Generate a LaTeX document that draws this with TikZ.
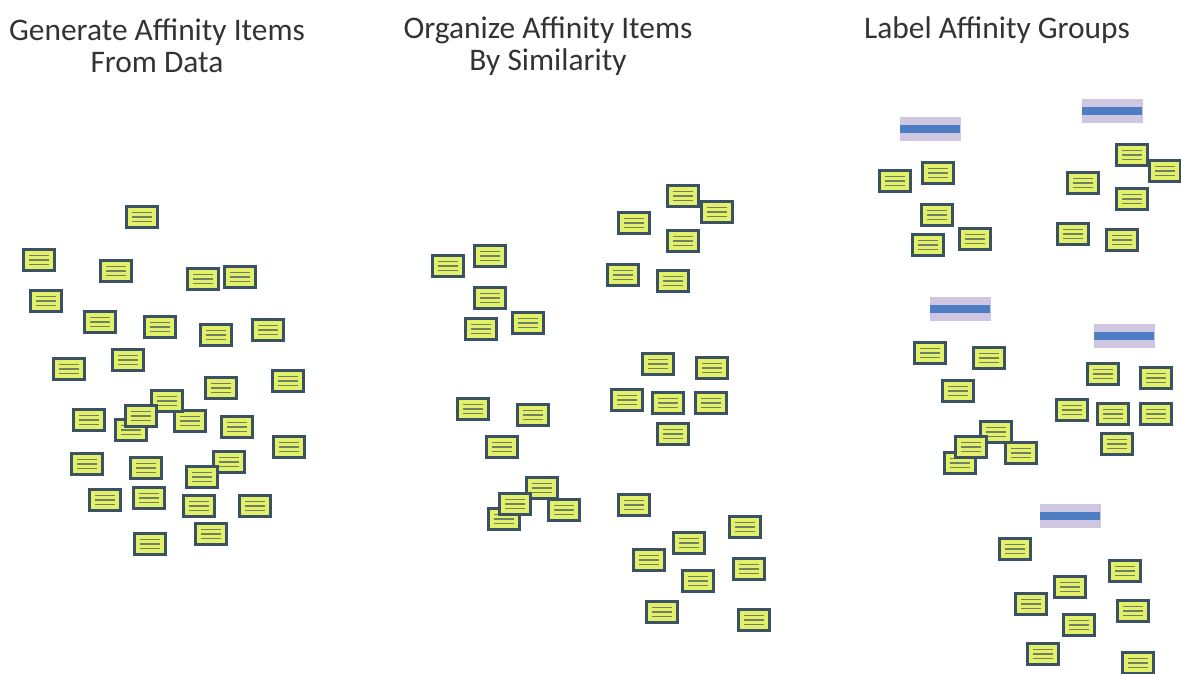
\documentclass[tikz,border=0pt]{standalone}
\usepackage{fontspec}
\setmainfont{Carlito}
\definecolor{itemfill}{HTML}{E2F06A}
\definecolor{bord}{HTML}{3A5264}
\definecolor{linecol}{HTML}{6F8160}
\definecolor{lav}{HTML}{CFC6E2}
\definecolor{barblue}{HTML}{4D7DC2}
\definecolor{titlecol}{HTML}{333333}
\tikzset{
  item/.style={draw=bord, fill=itemfill, line width=3.2pt, minimum width=30.5pt, minimum height=20.5pt, inner sep=0pt,
    path picture={
      \draw[linecol, line width=1.7pt]
        ([xshift=-10pt,yshift=4.5pt]path picture bounding box.center) -- ++(20pt,0pt)
        ([xshift=-10pt]path picture bounding box.center) -- ++(20pt,0pt)
        ([xshift=-10pt,yshift=-4.5pt]path picture bounding box.center) -- ++(20pt,0pt);
    }},
  labelbar/.style={fill=lav, draw=none, minimum width=61pt, minimum height=24pt, inner sep=0pt,
    path picture={
      \fill[barblue] ([xshift=-30pt,yshift=-4pt]path picture bounding box.center) rectangle ++(60pt,8pt);
    }},
  title/.style={font=\fontsize{31.4}{32}\selectfont, text=titlecol, align=center, inner sep=0pt}
}
\begin{document}
\begin{tikzpicture}[x=1pt,y=-1pt]
\useasboundingbox[fill=white] (0,0) rectangle (1181,673);
% titles
\node[title] (t1) at (157,46) {Generate Affinity Items\\From Data};
\node[title] (t2) at (548,46) {Organize Affinity Items\\By Similarity};
\node[title] (t3) at (997,30) {Label Affinity Groups};
% column 1: scattered items
\foreach \x/\y [count=\i] in {142/217, 39/260, 116/271, 203/279, 240/277, 46/301, 100/322, 160/327, 216/335, 268/330, 128/360, 69/369, 221/388, 288/381, 89/420, 190/421, 237/427, 131/430, 167/401, 141/416, 289/447, 87/464, 146/468, 229/462, 202/477, 105/500, 149/498, 199/506, 255/506, 211/534, 150/544}
  \node[item] (s\i) at (\x,\y) {};
% column 2: groups
\foreach \x/\y [count=\i] in {448/266, 490/256, 490/298, 481/329, 528/323}
  \node[item] (a\i) at (\x,\y) {};
\foreach \x/\y [count=\i] in {683/196, 717/212, 634/223, 683/241, 623/275, 673/281}
  \node[item] (b\i) at (\x,\y) {};
\foreach \x/\y [count=\i] in {473/409, 533/415, 502/447, 504/519, 542/488, 564/510, 515/504}
  \node[item] (c\i) at (\x,\y) {};
\foreach \x/\y [count=\i] in {658/364, 712/368, 627/400, 668/403, 711/403, 673/434}
  \node[item] (d\i) at (\x,\y) {};
\foreach \x/\y [count=\i] in {634/505, 745/527, 689/543, 649/560, 749/569, 698/581, 662/612, 754/620}
  \node[item] (e\i) at (\x,\y) {};
% column 3: labelled groups
\node[labelbar] (l1) at (930,129) {};
\node[labelbar] (l2) at (1112,111) {};
\node[labelbar] (l3) at (960,309) {};
\node[labelbar] (l4) at (1124,336) {};
\node[labelbar] (l5) at (1070,516) {};
\foreach \x/\y [count=\i] in {895/181, 938/173, 937/215, 928/245, 975/239}
  \node[item] (f\i) at (\x,\y) {};
\foreach \x/\y [count=\i] in {1132/155, 1165/171, 1083/183, 1132/199, 1073/234, 1122/240}
  \node[item] (g\i) at (\x,\y) {};
\foreach \x/\y [count=\i] in {930/353, 989/358, 958/391, 960/463, 996/432, 1021/453, 971/447}
  \node[item] (h\i) at (\x,\y) {};
\foreach \x/\y [count=\i] in {1103/374, 1156/378, 1072/410, 1113/414, 1156/414, 1117/444}
  \node[item] (i\i) at (\x,\y) {};
\foreach \x/\y [count=\i] in {1015/549, 1125/571, 1070/587, 1031/604, 1133/611, 1079/625, 1043/654, 1138/663}
  \node[item] (j\i) at (\x,\y) {};
\end{tikzpicture}
\end{document}
